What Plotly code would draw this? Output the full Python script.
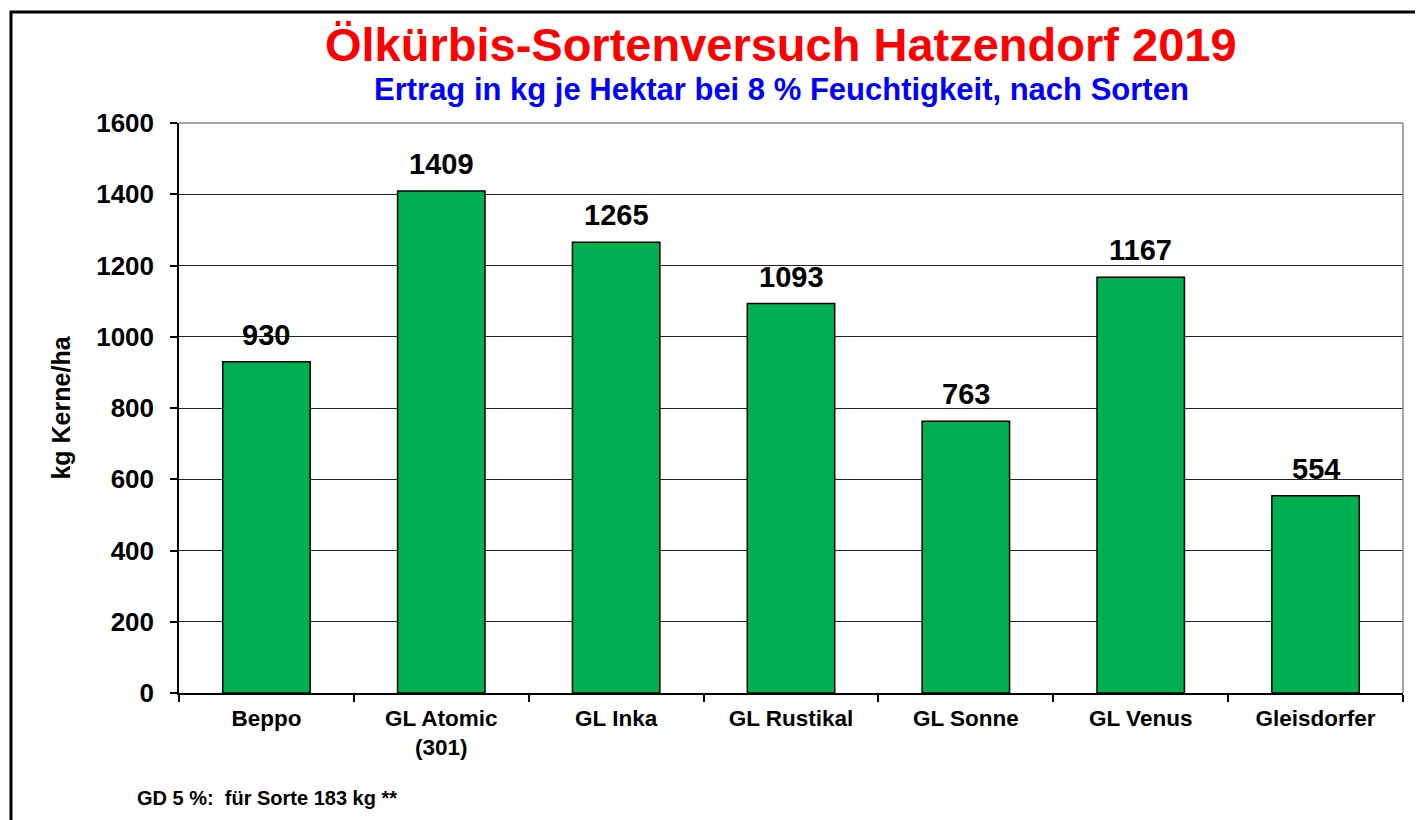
import plotly.graph_objects as go

categories = ["Beppo", "GL Atomic<br>(301)", "GL Inka", "GL Rustikal", "GL Sonne", "GL Venus", "Gleisdorfer"]
values = [930, 1409, 1265, 1093, 763, 1167, 554]
y_ticks = [0, 200, 400, 600, 800, 1000, 1200, 1400, 1600]

title_text = "Ölkürbis-Sortenversuch Hatzendorf 2019"
subtitle_text = "Ertrag in kg je Hektar bei 8 % Feuchtigkeit, nach Sorten"
y_title = "kg Kerne/ha"
footnote = "GD 5 %:  für Sorte 183 kg **"

FONT = "Liberation Sans, Arial, sans-serif"
W, H = 1423, 820
OFF = 8  # page body margin
L, R, T, B = 179 - OFF, 1403 - OFF, 123 - OFF, 693 - OFF

def px_x(px):
    return (px - OFF - L) / (R - L)

def px_y(py):
    return (B - (py - OFF)) / (B - T)

fig = go.Figure()
fig.add_trace(go.Bar(
    x=categories, y=values,
    marker=dict(color="#00B050", line=dict(color="black", width=1.5)),
    width=0.5,
    hoverinfo="x+y",
))

for c, v in zip(categories, values):
    fig.add_annotation(x=c, y=v, text=str(v), showarrow=False,
                       xanchor="center", yanchor="bottom", yshift=9,
                       font=dict(family=FONT, size=29, color="black", weight="bold"))

fig.update_layout(
    width=W, height=H,
    margin=dict(l=L, r=W - R, t=T, b=H - B, pad=0),
    paper_bgcolor="white", plot_bgcolor="white",
    showlegend=False,
    font=dict(family=FONT, color="black"),
    xaxis=dict(
        type="category",
        tickson="boundaries",
        ticks="outside", ticklen=7, tickwidth=1.5, tickcolor="black",
        showline=True, linecolor="black", linewidth=1.5,
        showgrid=False,
        tickfont=dict(family=FONT, size=22.5, color="black", weight="bold"),
        ticklabelstandoff=4,
        range=[-0.5, 6.5],
    ),
    yaxis=dict(
        range=[0, 1600],
        tickvals=y_ticks,
        ticks="outside", ticklen=7, tickwidth=1.5, tickcolor="black",
        showline=True, linecolor="black", linewidth=1.5,
        showgrid=True, gridcolor="#222222", gridwidth=1,
        zeroline=False,
        tickfont=dict(family=FONT, size=26, color="black", weight="bold"),
        ticklabelstandoff=11,
        title=dict(text=y_title, font=dict(family=FONT, size=25, color="black", weight="bold"), standoff=18),
    ),
)

# plot area top/right gray border
fig.add_shape(type="line", xref="paper", yref="paper", x0=0, x1=1, y0=1, y1=1,
              line=dict(color="#888888", width=1.5))
fig.add_shape(type="line", xref="paper", yref="paper", x0=1, x1=1, y0=0, y1=1,
              line=dict(color="#888888", width=1.5))

# outer frame
fig.add_shape(type="rect", xref="paper", yref="paper",
              x0=px_x(11), x1=px_x(1440), y0=px_y(840), y1=px_y(12),
              line=dict(color="black", width=3), layer="above")

fig.add_annotation(text=title_text, xref="paper", yref="paper",
                   x=px_x(781), y=px_y(44), xanchor="center", yanchor="middle",
                   showarrow=False, font=dict(family=FONT, size=47, color="#FF0000", weight="bold"))
fig.add_annotation(text=subtitle_text, xref="paper", yref="paper",
                   x=px_x(781), y=px_y(89), xanchor="center", yanchor="middle",
                   showarrow=False, font=dict(family=FONT, size=31, color="#0000FF", weight="bold"))
fig.add_annotation(text=footnote, xref="paper", yref="paper",
                   x=px_x(135), y=px_y(798), xanchor="left", yanchor="middle",
                   showarrow=False, font=dict(family=FONT, size=20, color="black", weight="bold"))

fig.write_html("out.html")
